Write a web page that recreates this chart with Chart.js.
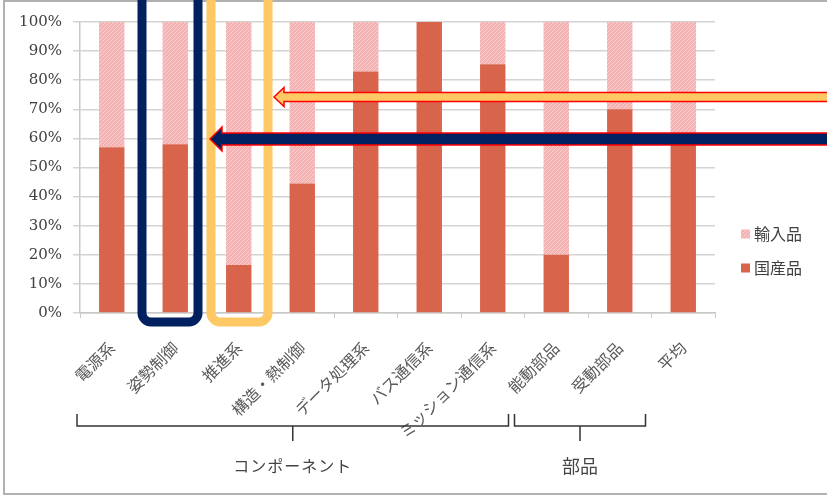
<!DOCTYPE html>
<html>
<head>
<meta charset="utf-8">
<script src="https://cdn.jsdelivr.net/npm/chart.js@4.4.0/dist/chart.umd.min.js"></script>
<style>
  html, body { margin: 0; padding: 0; background: #fff; }
  #wrap { width: 827px; height: 498px; position: relative; }
</style>
</head>
<body>
<div id="wrap"><canvas id="chart" width="827" height="498"></canvas></div>
<script>
// categories and values (percent)
const categories = ['電源系', '姿勢制御', '推進系', '構造・熱制御', 'データ処理系', 'バス通信系', 'ミッション通信系', '能動部品', '受動部品', '平均'];
const domestic = [57, 58, 16.5, 44.5, 83, 100, 85.5, 20, 70, 59];
const imported = [43, 42, 83.5, 55.5, 17, 0, 14.5, 80, 30, 41];
const yTicks = [0, 10, 20, 30, 40, 50, 60, 70, 80, 90, 100];
const groups = [
  { label: 'コンポーネント', from: 0, to: 6, size: 16 },
  { label: '部品', from: 7, to: 8, size: 18 }
];

const jpFont = '"Noto Sans CJK JP", sans-serif';

// hatched pink for imported parts
function makeHatch() {
  const c = document.createElement('canvas');
  c.width = 4; c.height = 4;
  const g = c.getContext('2d');
  g.fillStyle = '#f4b2b2';
  g.fillRect(0, 0, 4, 4);
  g.strokeStyle = '#f9d0d0';
  g.lineWidth = 1;
  g.beginPath();
  g.moveTo(0, 4); g.lineTo(4, 0);
  g.stroke();
  return g.createPattern(c, 'repeat');
}
const hatch = makeHatch();

const overlay = {
  id: 'overlay',
  afterDraw(chart) {
    const ctx = chart.ctx;
    const x = chart.scales.x;
    ctx.save();

    // frame
    ctx.strokeStyle = '#b0b0b0';
    ctx.lineWidth = 2;
    ctx.strokeRect(4, 1, 840, 493);

    // group brackets
    ctx.strokeStyle = '#333';
    ctx.lineWidth = 1.5;
    ctx.fillStyle = '#444';
    ctx.textAlign = 'center';
    ctx.textBaseline = 'middle';
    const half = (x.getPixelForValue(1) - x.getPixelForValue(0)) / 2;
    groups.forEach((gr, i) => {
      const l = x.getPixelForValue(gr.from) - half - (i === 0 ? 3 : 10);
      const r = x.getPixelForValue(gr.to) + half - (i === 0 ? 16 : 6);
      const m = (l + r) / 2;
      ctx.beginPath();
      ctx.moveTo(l, 414); ctx.lineTo(l, 426); ctx.lineTo(r, 426); ctx.lineTo(r, 414);
      ctx.moveTo(m, 426); ctx.lineTo(m, 441);
      ctx.stroke();
      ctx.font = gr.size + 'px ' + jpFont;
      ctx.letterSpacing = i === 0 ? '1px' : '0px';
      ctx.fillText(gr.label, m, 466);
    });
    ctx.letterSpacing = '0px';

    // legend
    const items = [['輸入品', hatch], ['国産品', '#d9644c']];
    ctx.font = '16px ' + jpFont;
    ctx.textAlign = 'left';
    items.forEach((it, i) => {
      const y = 234 + i * 34;
      ctx.fillStyle = it[1];
      ctx.fillRect(741, y - 4.5, 9, 9);
      ctx.fillStyle = '#404040';
      ctx.fillText(it[0], 754, y);
    });

    // highlight boxes
    function roundBox(l, t, r, b, rad, color) {
      ctx.strokeStyle = color;
      ctx.lineWidth = 9;
      ctx.beginPath();
      ctx.roundRect(l, t, r - l, b - t, rad);
      ctx.stroke();
    }
    roundBox(142, -20, 198, 322, 9, '#002060');
    roundBox(211, -20, 268, 322, 9, '#fec865');

    // arrows
    function arrow(tip, yc, bodyH, headH, headLen, fill) {
      ctx.fillStyle = fill;
      ctx.strokeStyle = '#ff0000';
      ctx.lineWidth = 1.5;
      ctx.beginPath();
      ctx.moveTo(tip, yc);
      ctx.lineTo(tip + headLen, yc - headH / 2);
      ctx.lineTo(tip + headLen, yc - bodyH / 2);
      ctx.lineTo(840, yc - bodyH / 2);
      ctx.lineTo(840, yc + bodyH / 2);
      ctx.lineTo(tip + headLen, yc + bodyH / 2);
      ctx.lineTo(tip + headLen, yc + headH / 2);
      ctx.closePath();
      ctx.fill();
      ctx.stroke();
    }
    arrow(274, 97, 9, 19, 10, '#fec865');
    arrow(210, 139, 12, 24, 12, '#002060');

    ctx.restore();
  }
};

new Chart(document.getElementById('chart'), {
  type: 'bar',
  data: {
    labels: categories,
    datasets: [
      { label: '国産品', data: domestic, backgroundColor: '#d9644c', borderWidth: 0 },
      { label: '輸入品', data: imported, backgroundColor: hatch, borderWidth: 0 }
    ]
  },
  options: {
    responsive: false,
    animation: false,
    layout: { padding: { top: 22, right: 112, left: 0, bottom: 0 } },
    plugins: { legend: { display: false }, tooltip: { enabled: false } },
    datasets: { bar: { barPercentage: 0.4, categoryPercentage: 1 } },
    scales: {
      x: {
        stacked: true,
        afterFit(s) { s.height = 185; },
        grid: { display: true, drawOnChartArea: false, offset: true, tickLength: 5, color: '#c8c8c8' },
        border: { color: '#c8c8c8', width: 1.5 },
        ticks: {
          minRotation: 45, maxRotation: 45, padding: 20,
          color: '#595959',
          font: { family: jpFont, size: 16 }
        }
      },
      y: {
        stacked: true,
        min: 0, max: 100,
        afterFit(s) { s.width = 80; },
        afterBuildTicks(s) { s.ticks = yTicks.map(v => ({ value: v })); },
        grid: { color: '#d4d4d4', lineWidth: 1.5, tickLength: 7 },
        border: { color: '#c8c8c8', width: 1.5 },
        ticks: {
          padding: 11,
          color: '#404040',
          font: { family: '"DejaVu Serif", serif', size: 15 },
          callback: v => v + '%'
        }
      }
    }
  },
  plugins: [overlay]
});
</script>
</body>
</html>
